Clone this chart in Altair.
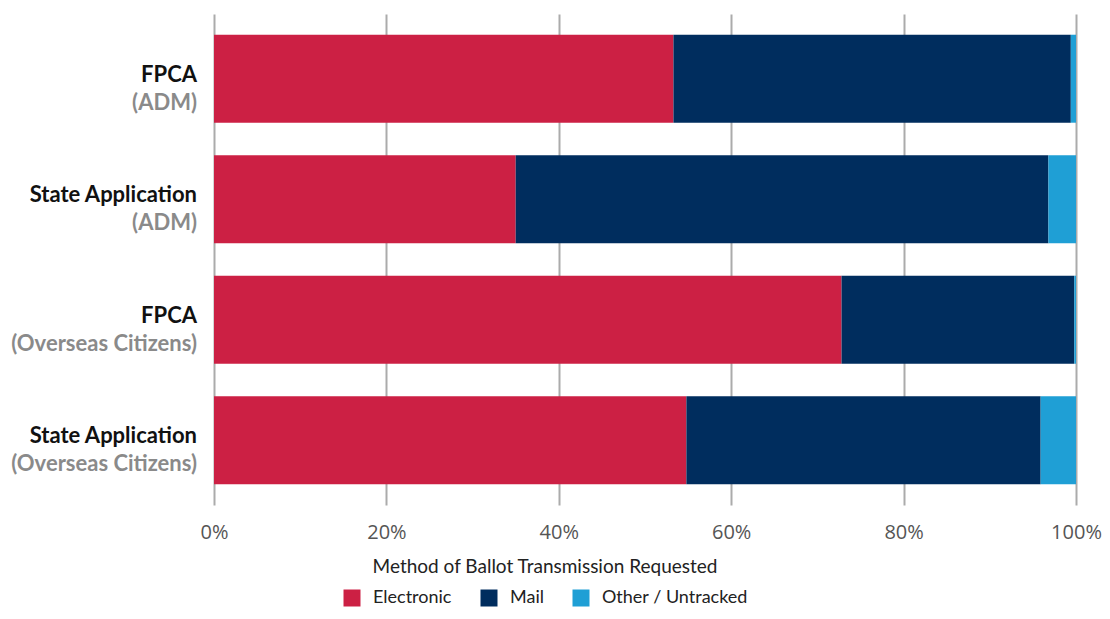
import altair as alt
import pandas as pd

categories = ["FPCA (ADM)", "State Application (ADM)", "FPCA (Overseas Citizens)", "State Application (Overseas Citizens)"]
line1 = ["FPCA", "State Application", "FPCA", "State Application"]
line2 = ["(ADM)", "(ADM)", "(Overseas Citizens)", "(Overseas Citizens)"]
series = ["Electronic", "Mail", "Other / Untracked"]
electronic = [53.3, 35.0, 72.8, 54.8]
mail = [46.1, 61.8, 27.0, 41.1]
other = [0.6, 3.2, 0.2, 4.1]
colors = ["#CC2044", "#002D5E", "#1F9FD5"]
ticks = [0, 0.2, 0.4, 0.6, 0.8, 1.0]

rows = []
for i, c in enumerate(categories):
    for j, (s, vals) in enumerate(zip(series, [electronic, mail, other])):
        rows.append({"cat": c, "series": s, "value": vals[i] / 100, "ord": j})
df = pd.DataFrame(rows)
lab = pd.DataFrame({"cat": categories, "l1": line1, "l2": line2})

yscale = alt.Scale(paddingInner=0.27, paddingOuter=0.172)

bars = alt.Chart(df).mark_bar().encode(
    x=alt.X("value:Q", stack="zero", title=None,
            scale=alt.Scale(domain=[0, 1], nice=False),
            axis=alt.Axis(format=".0%", values=ticks,
                          grid=True, gridColor="#ababab", gridWidth=2,
                          domain=False, ticks=False, labelPadding=17,
                          labelFont="Open Sans", labelFontSize=20,
                          labelColor="#555555", labelFlush=False)),
    y=alt.Y("cat:N", sort=categories, title=None, scale=yscale, axis=None),
    color=alt.Color("series:N", sort=series,
                    scale=alt.Scale(domain=series, range=colors),
                    legend=alt.Legend(title="Method of Ballot Transmission Requested",
                                      orient="none", legendX=129, legendY=544,
                                      direction="horizontal",
                                      titleAnchor="middle", titleFont="Lato",
                                      titleFontSize=19, titleFontWeight="normal",
                                      titleColor="#222222", titleLimit=0,
                                      labelFont="Lato", labelLimit=0,
                                      labelFontSize=18, labelColor="#222222",
                                      symbolType="square", symbolSize=289,
                                      symbolStrokeWidth=0, columnPadding=28,
                                      labelOffset=12, titlePadding=12)),
    order=alt.Order("ord:Q"),
)

t1 = alt.Chart(lab).mark_text(align="right", baseline="middle", dy=-4,
                              font="Lato", fontSize=22, fontWeight="bold",
                              color="#111111").encode(
    y=alt.Y("cat:N", sort=categories, title=None, scale=yscale, axis=None),
    x=alt.value(-17), text="l1:N")
t2 = alt.Chart(lab).mark_text(align="right", baseline="middle", dy=24,
                              font="Lato", fontSize=22, fontWeight="bold",
                              color="#8a8a8a").encode(
    y=alt.Y("cat:N", sort=categories, title=None, scale=yscale, axis=None),
    x=alt.value(-17), text="l2:N")

chart = alt.layer(bars, t1, t2).properties(
    width=862, height=491,
    autosize=alt.AutoSizeParams(type="none"),
    padding={"left": 206, "top": 6, "right": 26, "bottom": 106},
).configure_view(stroke=None)
chart.save("out.html", embed_options={"renderer": "svg", "actions": False})
